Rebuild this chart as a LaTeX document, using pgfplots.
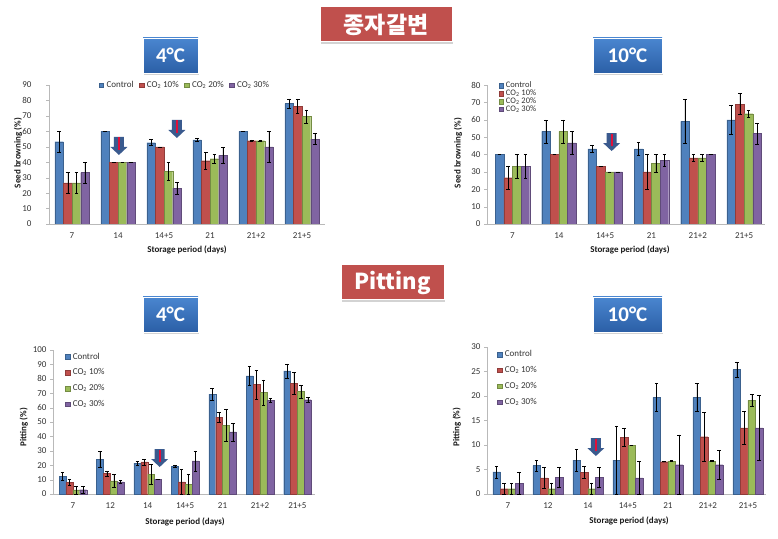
\documentclass[border=0pt]{standalone}
\usepackage{fontspec}
\setmainfont{Carlito}
\newfontfamily\kr{Noto Sans CJK KR}
\usepackage{pgfplots}
\pgfplotsset{compat=1.18}
\usetikzlibrary{shadows}
\definecolor{cA}{HTML}{4F81BD}
\definecolor{cB}{HTML}{C0504D}
\definecolor{cC}{HTML}{9BBB59}
\definecolor{cD}{HTML}{8064A2}
\definecolor{boxred}{HTML}{C0504D}
\definecolor{boxblueT}{HTML}{4A86D0}
\definecolor{boxblueB}{HTML}{2B5FA6}
\definecolor{arrblue}{HTML}{3A5A8E}
\definecolor{arrred}{HTML}{E0103A}
\newcommand{\dnarrow}[2]{%
  \fill[arrblue] (axis cs:#1,#2) -- ++(-8.5pt,8pt) -- ++(3.5pt,0pt) -- ++(0pt,10pt) -- ++(10pt,0pt) -- ++(0pt,-10pt) -- ++(3.5pt,0pt) -- cycle;
  \draw[arrred, line width=2pt] (axis cs:#1,#2) ++(0pt,5pt) -- ++(0pt,12.5pt);
}
\pgfplotsset{
  excel/.style={
    scale only axis,
    axis x line*=bottom, axis y line*=left,
    axis line style={draw=gray!55, line width=0.6pt},
    ybar=0pt,
    ymin=0,
    major x tick style={draw=none},
    ytick style={draw=gray!55},
    tick align=outside,
    major tick length=3pt,
    tick label style={font=\fontsize{9}{10}\selectfont, text=black!80},
    xticklabel style={yshift=-2pt},
    /pgf/number format/assume math mode=true,
    label style={font=\bfseries\fontsize{9}{10}\selectfont, text=black!90},
    legend style={draw=none, fill=none, font=\fontsize{9}{9.5}\selectfont, text=black!80, nodes={inner sep=0.6pt},
      /tikz/every odd column/.append style={column sep=2.5pt}},
    legend cell align=left,
    legend image code/.code={\fill[##1] (0pt,-2.2pt) rectangle (4.4pt,2.2pt);},
    error bars/y dir=both, error bars/y explicit,
    error bars/error bar style={black, line width=0.4pt},
    error bars/error mark options={rotate=90, black, mark size=1.8pt, line width=0.4pt},
  },
  bA/.style={fill=cA, draw=cA!75!black, line width=0.2pt},
  bB/.style={fill=cB, draw=cB!75!black, line width=0.2pt},
  bC/.style={fill=cC, draw=cC!75!black, line width=0.2pt},
  bD/.style={fill=cD, draw=cD!75!black, line width=0.2pt},
}
\begin{document}
\begin{tikzpicture}
\useasboundingbox (0pt,0pt) rectangle (778pt,538pt);

% ---------- Chart 1: 4C seed browning ----------
\begin{axis}[excel, at={(49pt,314pt)}, anchor=south west,
  width=276pt, height=139pt, xmin=-0.5, xmax=5.5, ymax=90,
  ytick={0,10,...,90}, bar width=8.6pt,
  yticklabel style={xshift=-11pt},
  xtick={0,...,5}, xticklabels={7,14,14+5,21,21+2,21+5},
  xlabel={Storage period (days)}, ylabel={Seed browning (\%)},
  xlabel style={at={(axis description cs:0.5,-0.187)}, anchor=center},
  ylabel style={at={(axis description cs:-0.112,0.51)}, anchor=center},
  legend columns=4,
  legend style={at={(0.49,1.0)}, anchor=center, font=\fontsize{9}{9.5}\selectfont,
    /tikz/every even column/.append style={column sep=5pt}},
]
\addplot[bA] coordinates {(0,53.3)+-(0,6.7) (1,60)+-(0,0) (2,52.7)+-(0,2) (3,54.5)+-(0,1) (4,60)+-(0,0) (5,78)+-(0,3)};
\addplot[bB] coordinates {(0,26.7)+-(0,6.7) (1,40)+-(0,0) (2,50)+-(0,0) (3,41)+-(0,5.3) (4,54)+-(0,0.5) (5,76.3)+-(0,4.7)};
\addplot[bC] coordinates {(0,26.7)+-(0,6.7) (1,40)+-(0,0) (2,34)+-(0,5.8) (3,42.3)+-(0,3) (4,54)+-(0,0.5) (5,69.7)+-(0,4.3)};
\addplot[bD] coordinates {(0,33.3)+-(0,6.7) (1,40)+-(0,0) (2,23.3)+-(0,4) (3,44.5)+-(0,5) (4,50)+-(0,10) (5,55)+-(0,3.5)};
\legend{Control, CO\textsubscript{2} 10\%, CO\textsubscript{2} 20\%, CO\textsubscript{2} 30\%}
\dnarrow{1.02}{44.7}
\dnarrow{2.28}{55.7}
\end{axis}

% ---------- Chart 2: 10C seed browning ----------
\begin{axis}[excel, at={(487pt,314pt)}, anchor=south west,
  width=278pt, height=139pt, xmin=-0.55, xmax=5.45, ymax=80,
  ytick={0,10,...,80}, bar width=8.6pt,
  xtick={0,...,5}, xticklabels={7,14,14+5,21,21+2,21+5},
  xlabel={Storage period (days)}, ylabel={Seed browning (\%)},
  xlabel style={at={(axis description cs:0.514,-0.187)}, anchor=center},
  ylabel style={at={(axis description cs:-0.104,0.51)}, anchor=center},
  legend style={at={(0.03,1.04)}, anchor=north west, font=\fontsize{8.5}{8.7}\selectfont, nodes={inner sep=0.3pt}},
]
\addplot[bA] coordinates {(0,40)+-(0,0) (1,53.3)+-(0,6.7) (2,43.3)+-(0,2.2) (3,43.3)+-(0,3.5) (4,59)+-(0,12.6) (5,60)+-(0,8.6)};
\addplot[bB] coordinates {(0,26.7)+-(0,6.7) (1,40)+-(0,0) (2,33.3)+-(0,0) (3,30)+-(0,10) (4,38)+-(0,2) (5,69)+-(0,6)};
\addplot[bC] coordinates {(0,33.3)+-(0,6.7) (1,53.3)+-(0,6.7) (2,30)+-(0,0) (3,35)+-(0,5) (4,38)+-(0,2) (5,63.5)+-(0,2)};
\addplot[bD] coordinates {(0,33.3)+-(0,6.7) (1,46.7)+-(0,6.7) (2,30)+-(0,0) (3,36.7)+-(0,3.3) (4,40)+-(0,0) (5,52.2)+-(0,6)};
\legend{Control, CO\textsubscript{2} 10\%, CO\textsubscript{2} 20\%, CO\textsubscript{2} 30\%}
\dnarrow{2.14}{42}
\end{axis}

% ---------- Chart 3: 4C pitting ----------
\begin{axis}[excel, at={(53pt,44pt)}, anchor=south west,
  width=262pt, height=144pt, xmin=-0.53, xmax=6.47, ymax=100,
  ytick={0,10,...,100}, bar width=6.9pt,
  xtick={0,...,6}, xticklabels={7,12,14,14+5,21,21+2,21+5},
  xlabel={Storage period (days)}, ylabel={Pitting (\%)},
  xlabel style={at={(axis description cs:0.504,-0.194)}, anchor=center},
  ylabel style={at={(axis description cs:-0.111,0.465)}, anchor=center},
  legend style={at={(0.034,1.0)}, anchor=north west, /tikz/row sep=7pt},
]
\addplot[bA] coordinates {(0,12.4)+-(0,3) (1,23.9)+-(0,5.5) (2,21.4)+-(0,1.2) (3,19.3)+-(0,1) (4,69.4)+-(0,4) (5,82.1)+-(0,6.6) (6,85.5)+-(0,4.8)};
\addplot[bB] coordinates {(0,8)+-(0,2) (1,14.3)+-(0,1.8) (2,22.3)+-(0,2) (3,8.5)+-(0,8.7) (4,53.3)+-(0,3.3) (5,76.1)+-(0,10) (6,76.8)+-(0,7.8)};
\addplot[bC] coordinates {(0,2.8)+-(0,2.7) (1,9.2)+-(0,4.8) (2,13.8)+-(0,7) (3,6.9)+-(0,6.9) (4,47.6)+-(0,11) (5,70.6)+-(0,8.7) (6,71.3)+-(0,4.6)};
\addplot[bD] coordinates {(0,3)+-(0,2.5) (1,8.5)+-(0,1.2) (2,10.1)+-(0,0) (3,23)+-(0,6.9) (4,43.2)+-(0,6.2) (5,65.1)+-(0,1.6) (6,65.5)+-(0,1.6)};
\legend{Control, CO\textsubscript{2} 10\%, CO\textsubscript{2} 20\%, CO\textsubscript{2} 30\%}
\dnarrow{2.32}{18.75}
\end{axis}

% ---------- Chart 4: 10C pitting ----------
\begin{axis}[excel, at={(487pt,44pt)}, anchor=south west,
  width=279pt, height=147pt, xmin=-0.52, xmax=6.45, ymax=30,
  ytick={0,5,...,30}, bar width=7.5pt,
  xtick={0,...,6}, xticklabels={7,12,14,14+5,21,21+2,21+5},
  xlabel={Storage period (days)}, ylabel={Pitting (\%)},
  xlabel style={at={(axis description cs:0.509,-0.184)}, anchor=center},
  ylabel style={at={(axis description cs:-0.108,0.456)}, anchor=center},
  legend style={at={(0.025,0.995)}, anchor=north west, /tikz/row sep=7pt},
]
\addplot[bA] coordinates {(0,4.5)+-(0,1.2) (1,5.8)+-(0,1.1) (2,6.9)+-(0,2.2) (3,6.9)+-(0,7) (4,19.7)+-(0,2.9) (5,19.7)+-(0,2.9) (6,25.4)+-(0,1.6)};
\addplot[bB] coordinates {(0,1.1)+-(0,1.1) (1,3.3)+-(0,2.1) (2,4.4)+-(0,1.2) (3,11.6)+-(0,1.9) (4,6.6)+-(0,0) (5,11.7)+-(0,5) (6,13.5)+-(0,3.4)};
\addplot[bC] coordinates {(0,1.1)+-(0,1.1) (1,1.1)+-(0,1.2) (2,1.1)+-(0,1.2) (3,10)+-(0,0) (4,6.7)+-(0,0.1) (5,6.7)+-(0,0.1) (6,19.1)+-(0,1.2)};
\addplot[bD] coordinates {(0,2.2)+-(0,2.2) (1,3.4)+-(0,2) (2,3.4)+-(0,2) (3,3.3)+-(0,3.3) (4,6)+-(0,6.1) (5,6)+-(0,2.9) (6,13.5)+-(0,6.7)};
\legend{Control, CO\textsubscript{2} 10\%, CO\textsubscript{2} 20\%, CO\textsubscript{2} 30\%}
\dnarrow{2.2}{7.75}
\end{axis}

% ---------- title boxes ----------
\tikzset{redbox/.style={fill=boxred, draw=white, line width=1pt, text=white, inner sep=0pt,
    drop shadow={shadow xshift=1pt, shadow yshift=-2pt, opacity=0.35}},
  bluebox/.style={top color=boxblueT, bottom color=boxblueB, draw=white, line width=0.5pt, text=white, inner sep=0pt,
    minimum height=35pt, font=\bfseries\fontsize{21}{22}\selectfont,
    drop shadow={shadow xshift=1pt, shadow yshift=-2pt, opacity=0.35}}}
\node[redbox, minimum width=132pt, minimum height=35pt, font=\kr\bfseries\fontsize{23}{24}\selectfont] at (386pt,513.5pt) {종자갈변};
\node[redbox, minimum width=103pt, minimum height=35pt, font=\kr\bfseries\fontsize{22}{24}\selectfont] at (392.5pt,255.5pt) {Pitting};
\node[bluebox, minimum width=55pt] at (170.5pt,482.5pt) {4°C};
\node[bluebox, minimum width=69pt] at (627.5pt,482.5pt) {10°C};
\node[bluebox, minimum width=55pt] at (170.5pt,223.5pt) {4°C};
\node[bluebox, minimum width=69pt] at (627.5pt,223.5pt) {10°C};
\end{tikzpicture}
\end{document}
